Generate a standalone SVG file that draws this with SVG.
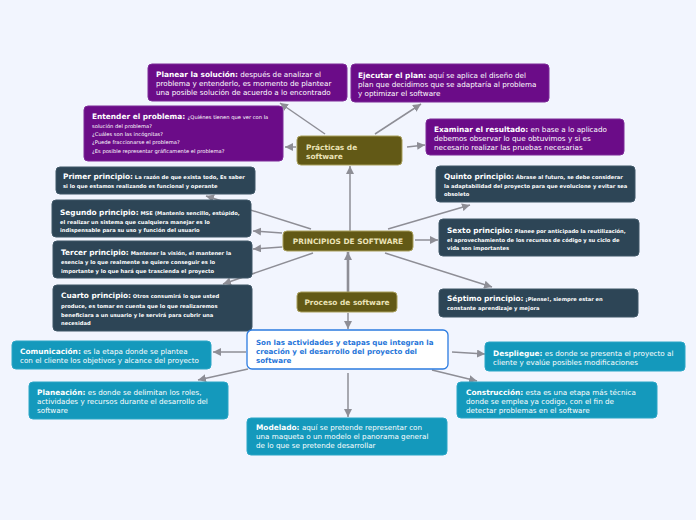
<svg xmlns="http://www.w3.org/2000/svg" width="696" height="520" viewBox="0 0 696 520">
<defs>
<marker id="ah" markerUnits="userSpaceOnUse" markerWidth="9" markerHeight="8" refX="8" refY="4" orient="auto">
<path d="M0,0 L8,4 L0,8 Z" fill="#8e8e96"/>
</marker>
<style>
text{font-family:"DejaVu Sans","Verdana",sans-serif;}
.c{stroke:#8e8e96;stroke-width:1.5;fill:none;marker-end:url(#ah);}
.pur{fill:#6b0c88;stroke:#7d2a98;stroke-width:1;}
.sl{fill:#2d4556;stroke:#3f5767;stroke-width:1;}
.ol{fill:#625916;stroke:#a9a05c;stroke-width:1;}
.tl{fill:#1499bc;stroke:#2aa6c6;stroke-width:1;}
.w{fill:#ffffff;font-size:7.2px;}
.ps{fill:#ffffff;font-size:5.2px;}
.pk{fill:#ffffff;font-size:5.2px;font-weight:bold;}
.hb{font-weight:bold;font-size:7.4px;}
.sm{font-size:5.2px;font-weight:normal;}
.ot{fill:#ebe3b8;font-size:7.4px;font-weight:bold;}
.bl{fill:#2675d9;font-size:7.1px;font-weight:bold;}
</style>
</defs>
<rect width="696" height="520" fill="#f2f5fe"/>
<g id="connectors">
<path class="c" d="M325,134 L280,103"/>
<path class="c" d="M296,147 L285,147"/>
<path class="c" d="M375,134 L421,104"/>
<path class="c" d="M407,147 L425,145"/>
<path class="c" d="M350,231 L350,166"/>
<path class="c" d="M311,229 L206,196"/>
<path class="c" d="M282,233 L253,231"/>
<path class="c" d="M282,247 L253,249"/>
<path class="c" d="M313,253 L223,284"/>
<path class="c" d="M388,229 L470,205"/>
<path class="c" d="M415,240 L438,240"/>
<path class="c" d="M385,253 L492,287"/>
<path class="c" d="M348,292 L348,252" style="stroke-width:2.6"/>
<path class="c" d="M348,313 L348,329"/>
<path class="c" d="M246,352 L213,352"/>
<path class="c" d="M248,369 L198,380"/>
<path class="c" d="M348,373 L348,417"/>
<path class="c" d="M452,352 L485,354"/>
<path class="c" d="M432,370 L477,381"/>
</g>
<g id="planear">
<rect class="pur" x="148" y="64" width="199" height="37" rx="4"/>
<text class="w" x="156" y="77"><tspan class="hb">Planear la solución:</tspan> después de analizar el</text>
<text class="w" x="156" y="86">problema y entenderlo, es momento de plantear</text>
<text class="w" x="156" y="95">una posible solución de acuerdo a lo encontrado</text>
</g>
<g id="entender">
<rect class="pur" x="84" y="106" width="199" height="55" rx="4"/>
<text class="w" x="92" y="119"><tspan class="hb">Entender el problema:</tspan> <tspan class="sm">¿Quiénes tienen que ver con la</tspan></text>
<text class="ps" x="92" y="128">solución del problema?</text>
<text class="ps" x="92" y="136">¿Cuáles son las incógnitas?</text>
<text class="ps" x="92" y="144">¿Puede fraccionarse el problema?</text>
<text class="ps" x="92" y="153">¿Es posible representar gráficamente el problema?</text>
</g>
<g id="ejecutar">
<rect class="pur" x="351" y="64" width="198" height="38" rx="4"/>
<text class="w" x="358" y="78"><tspan class="hb">Ejecutar el plan:</tspan> aquí se aplica el diseño del</text>
<text class="w" x="358" y="87">plan que decidimos que se adaptaría al problema</text>
<text class="w" x="358" y="96">y optimizar el software</text>
</g>
<g id="examinar">
<rect class="pur" x="426" y="119" width="198" height="36" rx="4"/>
<text class="w" x="434" y="132"><tspan class="hb">Examinar el resultado:</tspan> en base a lo aplicado</text>
<text class="w" x="434" y="141">debemos observar lo que obtuvimos y si es</text>
<text class="w" x="434" y="150">necesario realizar las pruebas necesarias</text>
</g>
<g id="practicas">
<rect class="ol" x="297" y="136" width="105" height="29" rx="4"/>
<text class="ot" x="306" y="150">Prácticas de</text>
<text class="ot" x="306" y="159">software</text>
</g>
<g id="principios">
<rect class="ol" x="283" y="231" width="130" height="20" rx="4"/>
<text class="ot" x="348" y="244" text-anchor="middle">PRINCIPIOS DE SOFTWARE</text>
</g>
<g id="proceso">
<rect class="ol" x="297" y="292" width="100" height="20" rx="4"/>
<text class="ot" x="347" y="305" text-anchor="middle">Proceso de software</text>
</g>
<g id="primer">
<rect class="sl" x="56" y="167" width="199" height="27" rx="4"/>
<text class="pk" x="63" y="179"><tspan class="hb">Primer principio:</tspan> La razón de que exista todo, Es saber</text>
<text class="pk" x="63" y="188">si lo que estamos realizando es funcional y operante</text>
</g>
<g id="segundo">
<rect class="sl" x="52" y="200" width="199" height="37" rx="4"/>
<text class="pk" x="60" y="215"><tspan class="hb">Segundo principio:</tspan> MSE (Mantenlo sencillo, estúpido,</text>
<text class="pk" x="60" y="224">el realizar un sistema que cualquiera manejar es lo</text>
<text class="pk" x="60" y="232">indispensable para su uso y función del usuario</text>
</g>
<g id="tercer">
<rect class="sl" x="53" y="241" width="199" height="37" rx="4"/>
<text class="pk" x="61" y="255"><tspan class="hb">Tercer principio:</tspan> Mantener la visión, el mantener la</text>
<text class="pk" x="61" y="264">esencia y lo que realmente se quiere conseguir es lo</text>
<text class="pk" x="61" y="273">importante y lo que hará que trascienda el proyecto</text>
</g>
<g id="cuarto">
<rect class="sl" x="53" y="285" width="199" height="46" rx="4"/>
<text class="pk" x="61" y="298"><tspan class="hb">Cuarto principio:</tspan> Otros consumirá lo que usted</text>
<text class="pk" x="61" y="308">produce, es tomar en cuenta que lo que realizaremos</text>
<text class="pk" x="61" y="317">beneficiara a un usuario y le servirá para cubrir una</text>
<text class="pk" x="61" y="325">necesidad</text>
</g>
<g id="quinto">
<rect class="sl" x="436" y="166" width="199" height="36" rx="4"/>
<text class="pk" x="444" y="179"><tspan class="hb">Quinto principio:</tspan> Ábrase al futuro, se debe considerar</text>
<text class="pk" x="444" y="188">la adaptabilidad del proyecto para que evolucione y evitar sea</text>
<text class="pk" x="444" y="196">obsoleto</text>
</g>
<g id="sexto">
<rect class="sl" x="439" y="219" width="200" height="37" rx="4"/>
<text class="pk" x="447" y="233"><tspan class="hb">Sexto principio:</tspan> Planee por anticipado la reutilización,</text>
<text class="pk" x="447" y="242">el aprovechamiento de los recursos de código y su ciclo de</text>
<text class="pk" x="447" y="250">vida son importantes</text>
</g>
<g id="septimo">
<rect class="sl" x="439" y="289" width="199" height="28" rx="4"/>
<text class="pk" x="447" y="301"><tspan class="hb">Séptimo principio:</tspan> ¡Piense!, siempre estar en</text>
<text class="pk" x="447" y="310">constante aprendizaje y mejora</text>
</g>
<g id="son">
<rect x="247" y="330" width="201" height="39" rx="5" fill="#ffffff" stroke="#2b7be0" stroke-width="1.3"/>
<text class="bl" x="256" y="345">Son las actividades y etapas que integran la</text>
<text class="bl" x="256" y="354">creación y el desarrollo del proyecto del</text>
<text class="bl" x="256" y="363">software</text>
</g>
<g id="comunicacion">
<rect class="tl" x="12" y="341" width="199" height="28" rx="4"/>
<text class="w" x="20" y="354"><tspan class="hb">Comunicación:</tspan> es la etapa donde se plantea</text>
<text class="w" x="20" y="363">con el cliente los objetivos y alcance del proyecto</text>
</g>
<g id="planeacion">
<rect class="tl" x="29" y="382" width="199" height="37" rx="4"/>
<text class="w" x="37" y="395"><tspan class="hb">Planeación:</tspan> es donde se delimitan los roles,</text>
<text class="w" x="37" y="404">actividades y recursos durante el desarrollo del</text>
<text class="w" x="37" y="413">software</text>
</g>
<g id="modelado">
<rect class="tl" x="247" y="418" width="200" height="37" rx="4"/>
<text class="w" x="256" y="430"><tspan class="hb">Modelado:</tspan> aquí se pretende representar con</text>
<text class="w" x="256" y="439">una maqueta o un modelo el panorama general</text>
<text class="w" x="256" y="448">de lo que se pretende desarrollar</text>
</g>
<g id="despliegue">
<rect class="tl" x="485" y="342" width="200" height="29" rx="4"/>
<text class="w" x="493" y="356"><tspan class="hb">Despliegue:</tspan> es donde se presenta el proyecto al</text>
<text class="w" x="493" y="365">cliente y evalúe posibles modificaciones</text>
</g>
<g id="construccion">
<rect class="tl" x="457" y="382" width="200" height="36" rx="4"/>
<text class="w" x="466" y="395"><tspan class="hb">Construcción:</tspan> esta es una etapa más técnica</text>
<text class="w" x="466" y="404">donde se emplea ya codigo, con el fin de</text>
<text class="w" x="466" y="413">detectar problemas en el software</text>
</g>
</svg>
